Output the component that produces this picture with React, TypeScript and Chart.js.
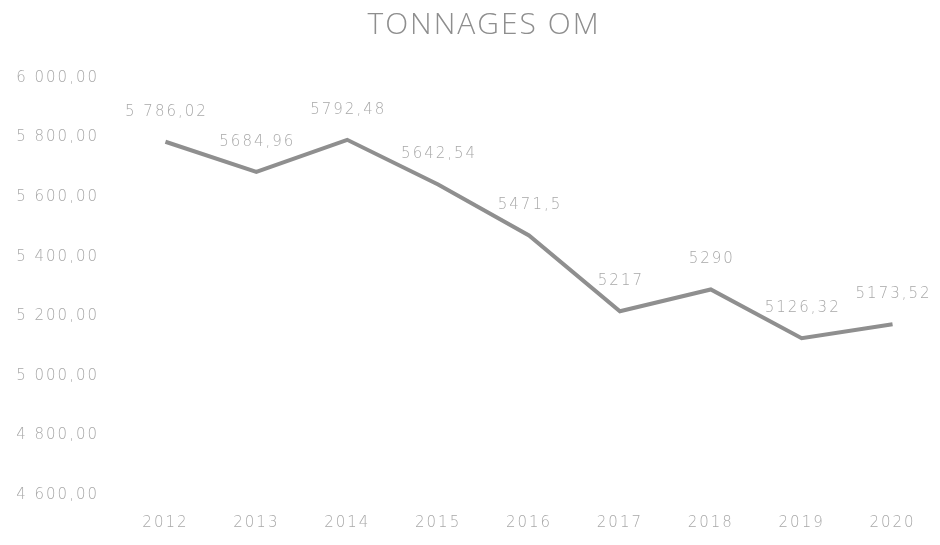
import React, { useEffect, useRef } from "react";
import { Chart, registerables } from "chart.js";

Chart.register(...registerables);

const categories = ["2012", "2013", "2014", "2015", "2016", "2017", "2018", "2019", "2020"];
const tonnages = [5786.02, 5684.96, 5792.48, 5642.54, 5471.5, 5217, 5290, 5126.32, 5173.52];
const pointLabels = ["5 786,02", "5684,96", "5792,48", "5642,54", "5471,5", "5217", "5290", "5126,32", "5173,52"];
const yMin = 4600;
const yMax = 6000;
const yStep = 200;
const title = "TONNAGES OM";

const FONT = "'DejaVu Sans', 'Liberation Sans', sans-serif";
const TITLE_FONT = "'Open Sans', 'Liberation Sans', sans-serif";
const SPACING = "2px";
const TEXT_COLOR = "#a8a8a8";

function formatTick(v: number): string {
  const s = Math.round(v).toString();
  const grouped = s.replace(/\B(?=(\d{3})+(?!\d))/g, " ");
  return grouped + ",00";
}

const spacingPlugin = {
  id: "spacing",
  beforeUpdate(chart: any) {
    chart.ctx.letterSpacing = SPACING;
  },
  beforeDraw(chart: any) {
    chart.ctx.letterSpacing = SPACING;
  },
};

const titlePlugin = {
  id: "customTitle",
  afterDraw(chart: any) {
    const ctx = chart.ctx;
    ctx.save();
    ctx.letterSpacing = "2px";
    ctx.font = `300 30px ${TITLE_FONT}`;
    ctx.fillStyle = "#8e8e8e";
    ctx.textAlign = "center";
    ctx.textBaseline = "middle";
    ctx.fillText(title, 484, 25);
    ctx.restore();
  },
};

const labelPlugin = {
  id: "pointLabels",
  afterDatasetsDraw(chart: any) {
    const ctx = chart.ctx;
    const meta = chart.getDatasetMeta(0);
    ctx.save();
    ctx.letterSpacing = SPACING;
    ctx.font = `200 15px ${FONT}`;
    ctx.fillStyle = TEXT_COLOR;
    ctx.textAlign = "center";
    ctx.textBaseline = "middle";
    meta.data.forEach((pt: any, i: number) => {
      ctx.fillText(pointLabels[i], pt.x + 1, pt.y - 30);
    });
    ctx.restore();
  },
};

export default function App() {
  const ref = useRef<HTMLCanvasElement | null>(null);
  useEffect(() => {
    if (!ref.current) return;
    const chart = new Chart(ref.current, {
      type: "line",
      data: {
        labels: categories,
        datasets: [
          {
            data: tonnages,
            borderColor: "#8f8f8f",
            borderWidth: 4,
            pointRadius: 0,
            tension: 0,
            fill: false,
          },
        ],
      },
      options: {
        animation: false,
        responsive: false,
        maintainAspectRatio: false,
        layout: { padding: { left: 0, right: 2, top: 78, bottom: 0 } },
        plugins: {
          legend: { display: false },
          tooltip: { enabled: false },
          title: { display: false },
        },
        scales: {
          x: {
            offset: true,
            grid: { display: false, drawTicks: false },
            border: { display: false },
            ticks: {
              color: TEXT_COLOR,
              font: { family: FONT, size: 15, weight: 200 as any },
              padding: 19,
              maxRotation: 0,
            },
            afterFit(scale: any) {
              scale.height = 50;
            },
          },
          y: {
            min: yMin,
            max: yMax,
            grid: { display: false, drawTicks: false },
            border: { display: false },
            ticks: {
              stepSize: yStep,
              color: TEXT_COLOR,
              font: { family: FONT, size: 15, weight: 200 as any },
              padding: 21,
              callback: (v: any) => formatTick(Number(v)),
            },
            afterFit(scale: any) {
              scale.width = 120;
            },
          },
        },
      },
      plugins: [spacingPlugin, labelPlugin, titlePlugin],
    });
    return () => chart.destroy();
  }, []);
  return (
    <div style={{ position: "fixed", left: 0, top: 0, width: 940, height: 545, background: "#fff" }}>
      <canvas ref={ref} width={940} height={545} style={{ width: 940, height: 545 }} />
    </div>
  );
}
